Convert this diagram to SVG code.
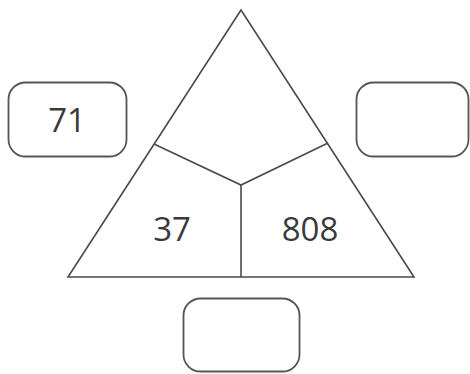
<svg xmlns="http://www.w3.org/2000/svg" width="470" height="374" viewBox="0 0 470 374">
<style>
.ln{fill:none;stroke:#4a4a4a;stroke-width:1.6;stroke-linejoin:miter}
.box{fill:#fff;stroke:#555;stroke-width:1.8}
.t{font-family:"Open Sans","Noto Sans",sans-serif;font-size:33px;fill:#3a3a3a;text-anchor:middle}
</style>
<rect width="470" height="374" fill="#fff"/>
<g id="triangle">
<polygon class="ln" points="241,10 68,277 414,277"/>
</g>
<g id="connectors">
<polyline class="ln" points="154,144 241,185 328,143"/>
<line class="ln" x1="241" y1="185" x2="241" y2="277"/>
</g>
<g id="sector-left"><text class="t" x="172" y="241">37</text></g>
<g id="sector-right"><text class="t" x="310" y="241">808</text></g>
<g id="box-left"><rect class="box" x="8.5" y="82.5" width="118" height="74" rx="17"/><text class="t" x="67" y="132">71</text></g>
<g id="box-right"><rect class="box" x="356.5" y="82.5" width="112" height="74" rx="17"/></g>
<g id="box-bottom"><rect class="box" x="183.5" y="298.5" width="116" height="73" rx="17"/></g>
</svg>
